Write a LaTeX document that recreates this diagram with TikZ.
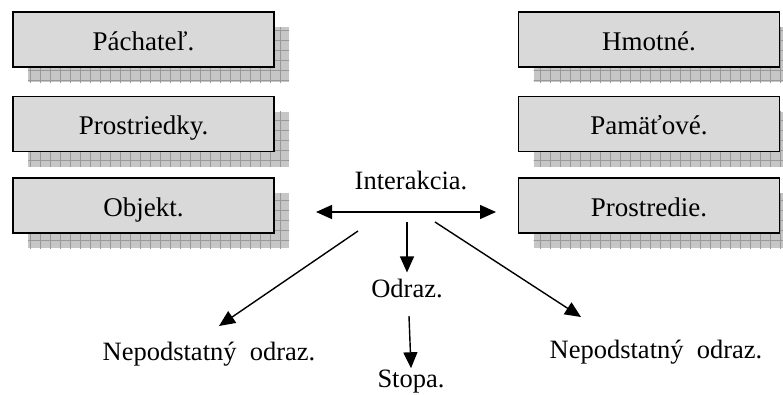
\documentclass[tikz,border=0pt]{standalone}
\usepackage{fontspec}
\setmainfont{Liberation Serif}
\usetikzlibrary{arrows.meta}
\tikzset{
  box/.style={draw=black, line width=1.6pt, fill=boxgray, minimum width=261pt,
    minimum height=55pt, inner sep=0pt, text height=21pt, text depth=0pt,
    font=\fontsize{27}{30}\selectfont},
  label/.style={inner sep=1pt, anchor=base, font=\fontsize{26.5}{30}\selectfont},
  link/.style={line width=1.4pt, -{Triangle[length=16pt,width=14pt]}},
  bilink/.style={line width=1.4pt, {Triangle[length=16pt,width=14pt]}-{Triangle[length=16pt,width=14pt]}},
}
\definecolor{boxgray}{HTML}{D9D9D9}
\definecolor{shadefill}{HTML}{C6C6C6}
\definecolor{shadegrid}{HTML}{999999}
% a box with its hatched drop shadow
\newcommand{\shadowbox}[4]{%
  \begin{scope}
    \clip (#1-130.5+15,#2-27.5+15) rectangle (#1+130.5+15,#2+27.5+15);
    \fill[shadefill] (#1-130.5+15,#2-27.5+15) rectangle (#1+130.5+15,#2+27.5+15);
    \draw[shadegrid, line width=0.5pt, step=10pt] (#1-140,#2-40) grid (#1+150,#2+50);
  \end{scope}
  \node[box] (#3) at (#1,#2) {#4};
}
\begin{document}
\begin{tikzpicture}[x=1pt,y=-1pt]
\useasboundingbox (0,0) rectangle (783,394);
\shadowbox{143.5}{39.5}{pachatel}{Páchateľ.}
\shadowbox{143.5}{124}{prostriedky}{Prostriedky.}
\shadowbox{143.5}{205.5}{objekt}{Objekt.}
\shadowbox{649}{39.5}{hmotne}{Hmotné.}
\shadowbox{649}{124}{pamatove}{Pamäťové.}
\shadowbox{649}{205.5}{prostredie}{Prostredie.}

\node[label] (interakcia) at (411,189) {Interakcia.};
\node[label] (odraz) at (407,297) {Odraz.};
\node[label] (stopa) at (411,387) {Stopa.};
\node[label] (nepL) at (209,360) {Nepodstatný\ \ odraz.};
\node[label] (nepR) at (656,358) {Nepodstatný\ \ odraz.};

\coordinate (leftend) at (316,212);
\coordinate (rightend) at (496,212);
\coordinate (downstart) at (407,222);
\coordinate (lstart) at (358,231);
\coordinate (rstart) at (435,222);
\coordinate (lend) at (219,326);
\coordinate (rend) at (581,317);
\coordinate (sstart) at (409,316);

\draw[bilink] (leftend) -- (rightend);
\draw[link] (downstart) -- ([yshift=5pt]odraz.north);
\draw[link] (lstart) -- (lend);
\draw[link] (rstart) -- (rend);
\draw[link] (sstart) -- (stopa.north);
\end{tikzpicture}
\end{document}
